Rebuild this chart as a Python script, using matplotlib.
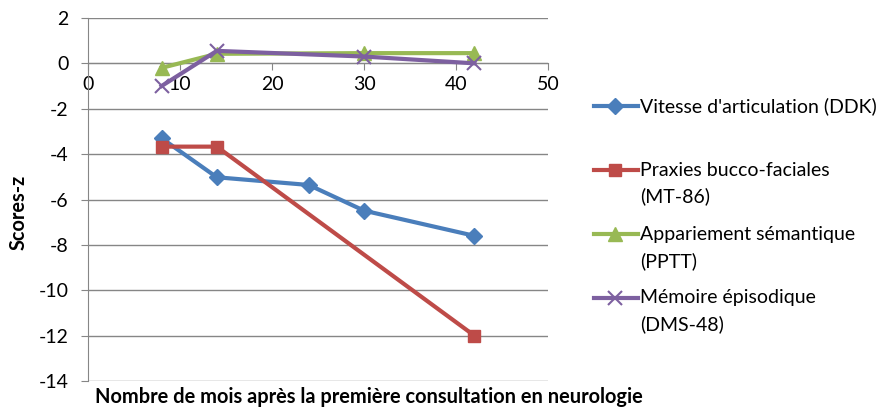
import matplotlib.pyplot as plt
from matplotlib.lines import Line2D

plt.rcParams['font.family'] = ['Lato', 'DejaVu Sans']

# data
mois_ddk = [8, 14, 24, 30, 42]
ddk = [-3.3, -5.02, -5.36, -6.49, -7.6]
mois_mt86 = [8, 14, 42]
mt86 = [-3.67, -3.67, -12.0]
mois_pptt = [8, 14, 30, 42]
pptt = [-0.2, 0.42, 0.45, 0.45]
mois_dms = [8, 14, 30, 42]
dms = [-1.0, 0.55, 0.3, 0.0]

labels = [["Vitesse d'articulation (DDK)"],
          ["Praxies bucco-faciales", "(MT-86)"],
          ["Appariement sémantique", "(PPTT)"],
          ["Mémoire épisodique", "(DMS-48)"]]
yticks = [-14, -12, -10, -8, -6, -4, -2, 0, 2]
xticks = [0, 10, 20, 30, 40, 50]

fig = plt.figure(figsize=(8.78, 4.08), dpi=100)
ax = fig.add_axes([0.1002, 0.066, 0.524, 0.89])

styles = [dict(color='#4A7EBB', marker='D', ms=8),
          dict(color='#BE4B48', marker='s', ms=8.5),
          dict(color='#98B954', marker='^', ms=10),
          dict(color='#7D60A0', marker='x', ms=10, mew=1.5)]

ax.plot(mois_ddk, ddk, lw=3, zorder=3, **styles[0])
ax.plot(mois_mt86, mt86, lw=3, zorder=3, **styles[1])
ax.plot(mois_pptt, pptt, lw=3, zorder=3, **styles[2])
ax.plot(mois_dms, dms, lw=3, zorder=4, **styles[3])

ax.set_xlim(0, 50)
ax.set_ylim(-14, 2)
ax.set_yticks(yticks)
ax.set_xticks(xticks)
ax.set_yticklabels([str(v) for v in yticks])
ax.yaxis.grid(True, color='#868686', lw=1)
ax.set_axisbelow(True)

ax.spines['bottom'].set_position(('data', 0))
ax.spines['top'].set_visible(False)
ax.spines['right'].set_visible(False)
for s in ['left', 'bottom']:
    ax.spines[s].set_color('#868686')
ax.tick_params(axis='x', direction='out', length=5, color='#868686', labelsize=14, pad=4)
ax.tick_params(axis='y', direction='out', length=5, color='#868686', labelsize=14, pad=9)

fig.text(0.108, 0.027, "Nombre de mois après la première consultation en neurologie",
         fontsize=14.4, fontweight='bold', va='center', ha='left')
fig.text(0.021, 0.48, "Scores-z", rotation=90, fontsize=14.4, fontweight='bold',
         va='center', ha='center')

# legend, Excel style: marker on the first line of each entry
entry_y = [0.740, 0.583, 0.426, 0.270]
line_gap = 0.065
for st, lab, y in zip(styles, labels, entry_y):
    fig.add_artist(Line2D([0.676, 0.727], [y, y], lw=3, transform=fig.transFigure,
                          color=st['color']))
    fig.add_artist(Line2D([0.701], [y], lw=0, transform=fig.transFigure, **st))
    for i, txt in enumerate(lab):
        fig.text(0.729, y - i * line_gap, txt, fontsize=14, va='center', ha='left')

fig.savefig('out.png', dpi=100)
